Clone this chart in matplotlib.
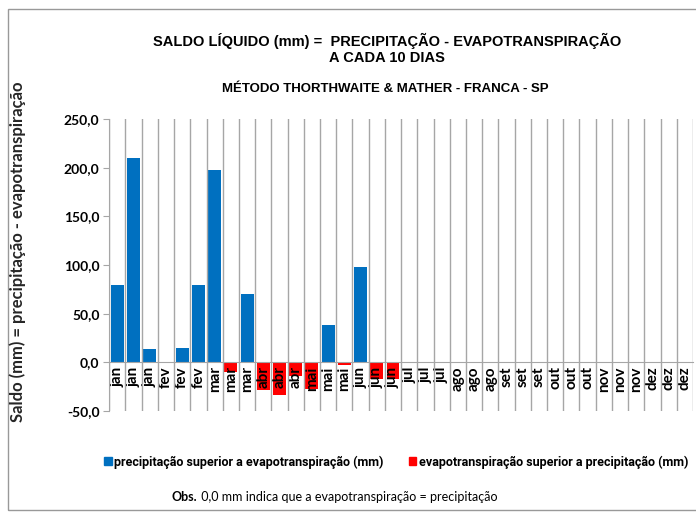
import numpy as np
import matplotlib
matplotlib.use("Agg")
import matplotlib.pyplot as plt
from matplotlib.patches import Patch, Rectangle
from matplotlib.ticker import FuncFormatter

# decêndios (3 por mês)
meses = ["jan", "fev", "mar", "abr", "mai", "jun",
         "jul", "ago", "set", "out", "nov", "dez"]
categorias = [m for m in meses for _ in range(3)]

# saldo = precipitação - evapotranspiração (mm)
saldo = [79, 210, 13.5,
         -1, 14.5, 79,
         197.5, -10, 70,
         -28, -34, -14,
         -27, 38, -3,
         97.5, -17.5, -17,
         0, 0, 0,
         0, 0, 0,
         0, 0, 0,
         0, 0, 0,
         0, 0, 0,
         0, 0, 0]

AZUL = "#0070C0"
VERMELHO = "#FF0000"
CINZA = "#A6A6A6"
NARROW = ["Liberation Sans", "DejaVu Sans"]

saldo = np.array(saldo, dtype=float)
positivo = np.where(saldo > 0, saldo, 0)
negativo = np.where(saldo < 0, saldo, 0)
x = np.arange(len(categorias))

fig = plt.figure(figsize=(6.96, 5.14), dpi=100)
ax = fig.add_axes([0.157, 0.2004, 0.8386, 0.5681])

ax.bar(x, positivo, width=0.8, color=AZUL, zorder=1)
ax.bar(x, negativo, width=0.8, color=VERMELHO, zorder=1)

ax.set_xlim(-0.5, len(categorias) - 0.5)
ax.set_ylim(-50, 250)
ax.set_yticks(np.arange(-50, 251, 50))
ax.yaxis.set_major_formatter(FuncFormatter(lambda v, p: f"{v:.1f}".replace(".", ",")))

# eixo das categorias passando pelo zero
ax.spines["bottom"].set_position(("data", 0))
ax.spines["bottom"].set_color(CINZA)
ax.spines["left"].set_color(CINZA)
ax.spines["top"].set_visible(False)
ax.spines["right"].set_visible(False)

ax.set_xticks(x)
ax.set_xticklabels(categorias, rotation=90, fontsize=11, fontweight="bold",
                   family="Lato", va="top")
ax.set_xticks(np.arange(len(categorias) + 1) - 0.5, minor=True)
ax.tick_params(axis="x", which="both", length=0, pad=3)
ax.tick_params(axis="y", length=4, color=CINZA, pad=3)
for t in ax.get_yticklabels():
    t.set_fontfamily("Lato")
    t.set_fontweight("bold")
    t.set_fontsize(10)
ax.grid(which="minor", axis="x", color=CINZA, linewidth=1)

fig.text(0.026, 0.51, "Saldo (mm) = precipitação - evapotranspiração",
         rotation=90, ha="center", va="center", fontsize=12,
         fontweight="bold", family="Lato", color="#262626")

fig.text(0.556, 0.905, "SALDO LÍQUIDO (mm) =  PRECIPITAÇÃO - EVAPOTRANSPIRAÇÃO\nA CADA 10 DIAS",
         ha="center", va="center", fontsize=10.5, fontweight="bold",
         family=NARROW, linespacing=1.25)
fig.text(0.554, 0.827, "MÉTODO THORTHWAITE & MATHER - FRANCA - SP",
         ha="center", va="center", fontsize=9.5, fontweight="bold", family=NARROW)

handles = [Patch(color=AZUL, label="precipitação superior a evapotranspiração (mm)"),
           Patch(color=VERMELHO, label="evapotranspiração superior a precipitação (mm)")]
fig.legend(handles=handles, loc="center", bbox_to_anchor=(0.569, 0.101), ncol=2,
           frameon=False, handlelength=0.6, handleheight=0.6, handletextpad=0.2,
           columnspacing=2.0, prop={"family": "Roboto", "weight": "bold", "size": 9})

obs = fig.text(0.247, 0.033, "Obs.", ha="left", va="center", fontsize=9,
               fontweight="bold", family="Lato")
resto = fig.text(0, 0, " 0,0 mm indica que a evapotranspiração = precipitação",
                 fontsize=9, family="Lato", ha="left", va="baseline")
fig.canvas.draw()
bb = obs.get_window_extent()
resto.set_transform(matplotlib.transforms.IdentityTransform())
resto.set_position((bb.x1, bb.y0 + 2.4))

fig.patches.append(Rectangle((0.0115, 0.008), 1.2, 0.9745, transform=fig.transFigure,
                             fill=False, edgecolor="#999999", linewidth=1))

fig.savefig("out.png", dpi=100)
